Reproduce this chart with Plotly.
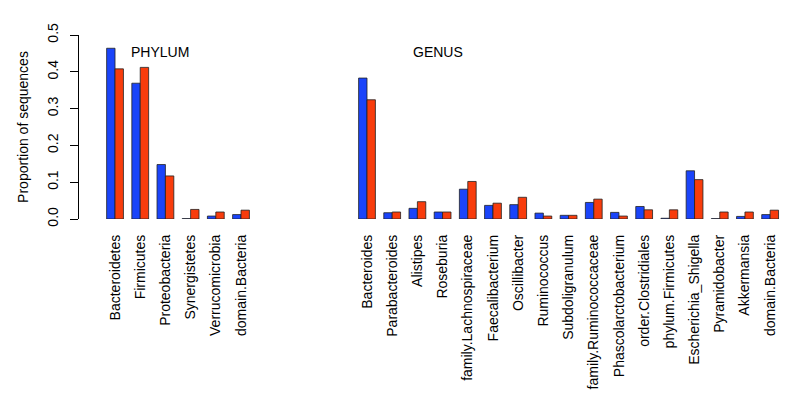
import plotly.graph_objects as go

# ── Data ──────────────────────────────────────────────────────────────────────
PHYLUM = ["Bacteroidetes", "Firmicutes", "Proteobacteria", "Synergistetes",
          "Verrucomicrobia", "domain.Bacteria"]
PHYLUM_BLUE = [0.464, 0.369, 0.148, 0.001, 0.008, 0.012]
PHYLUM_RED  = [0.408, 0.412, 0.117, 0.026, 0.019, 0.024]

GENUS = ["Bacteroides", "Parabacteroides", "Alistipes", "Roseburia",
         "family.Lachnospiraceae", "Faecalibacterium", "Oscillibacter",
         "Ruminococcus", "Subdoligranulum", "family.Ruminococcaceae",
         "Phascolarctobacterium", "order.Clostridiales", "phylum.Firmicutes",
         "Escherichia_Shigella", "Pyramidobacter", "Akkermansia", "domain.Bacteria"]
GENUS_BLUE = [0.383, 0.017, 0.029, 0.019, 0.081, 0.037, 0.039, 0.016, 0.010,
              0.045, 0.018, 0.034, 0.002, 0.131, 0.001, 0.007, 0.012]
GENUS_RED  = [0.324, 0.019, 0.047, 0.019, 0.102, 0.043, 0.059, 0.008, 0.010,
              0.054, 0.008, 0.025, 0.025, 0.107, 0.019, 0.019, 0.024]

Y_TICKS = [0.0, 0.1, 0.2, 0.3, 0.4, 0.5]

BLUE = "#1A44FA"
RED  = "#F83C0C"
FONT = "Liberation Sans, Arial, Helvetica, sans-serif"

# phylum groups at 0..5, then 4 empty slots, genus groups after
GAP = 4
labels = PHYLUM + GENUS
pos = list(range(len(PHYLUM))) + [len(PHYLUM) + GAP + i for i in range(len(GENUS))]
blue = PHYLUM_BLUE + GENUS_BLUE
red = PHYLUM_RED + GENUS_RED

fig = go.Figure()
fig.add_trace(go.Bar(x=pos, y=blue, marker=dict(color=BLUE, line=dict(color="#222", width=0.8))))
fig.add_trace(go.Bar(x=pos, y=red, marker=dict(color=RED, line=dict(color="#222", width=0.8))))

fig.add_annotation(x=1.79, y=0.454, text="PHYLUM", showarrow=False,
                   font=dict(size=14, color="black", family=FONT))
fig.add_annotation(x=12.8, y=0.454, text="GENUS", showarrow=False,
                   font=dict(size=14, color="black", family=FONT))

fig.update_layout(
    width=794, height=402,
    barmode="group", bargap=1 / 3, bargroupgap=0,
    showlegend=False,
    paper_bgcolor="white", plot_bgcolor="white",
    font=dict(family=FONT, color="black", size=14),
    margin=dict(l=79, r=10, t=35, b=183),
)
fig.update_xaxes(
    range=[-1.43, 26.55], tickvals=pos, ticktext=labels, tickangle=-90,
    showgrid=False, zeroline=False, showline=False, ticks="",
    ticklabelstandoff=12, tickfont=dict(size=14),
)
fig.update_yaxes(
    range=[0, 0.5], tickvals=Y_TICKS, ticktext=[f"{v:.1f}" for v in Y_TICKS],
    tickangle=-90, ticks="outside", ticklen=8, tickcolor="black",
    showline=True, linecolor="black", linewidth=1,
    showgrid=False, zeroline=False, ticklabelstandoff=6,
    tickfont=dict(size=14),
    title=dict(text="Proportion of sequences", font=dict(size=14), standoff=13),
)

# drop the page's default body margin so the figure sits at the window origin
fig.write_html("out.html", config={"displayModeBar": False},
               post_script="document.body.style.margin='0';")
